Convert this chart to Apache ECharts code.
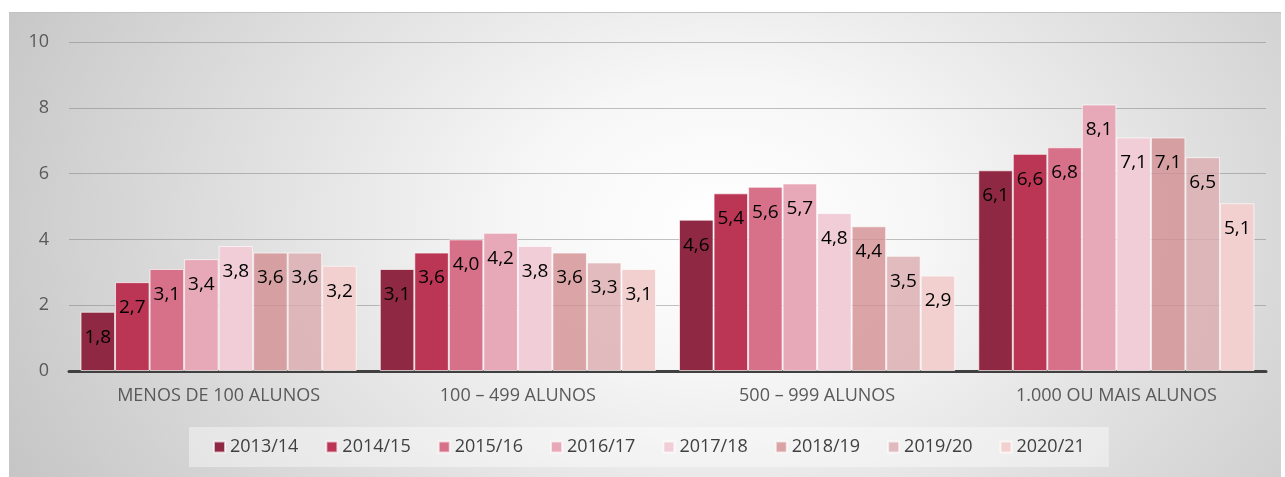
<!DOCTYPE html>
<html>
<head>
<meta charset="utf-8">
<script src="https://cdn.jsdelivr.net/npm/echarts@6/dist/echarts.min.js"></script>
<style>
  html, body { margin: 0; padding: 0; background: #fff; }
  #panel {
    position: absolute; left: 9px; top: 12px; width: 1272px; height: 465px;
    border-top: 1px solid #c2c2c2;
    background: radial-gradient(ellipse 62% 120% at 56% 45%, #ffffff 0%, #f7f7f7 25%, #c6c6c6 100%);
  }
  #chart { position: absolute; left: 0; top: 0; width: 1285px; height: 477px; }
</style>
</head>
<body>
<div id="panel"></div>
<div id="chart"></div>
<script>
  // dados
  var categorias = ['MENOS DE 100 ALUNOS', '100 – 499 ALUNOS', '500 – 999 ALUNOS', '1.000 OU MAIS ALUNOS'];
  var anos = ['2013/14', '2014/15', '2015/16', '2016/17', '2017/18', '2018/19', '2019/20', '2020/21'];
  var v2013 = [1.8, 3.1, 4.6, 6.1];
  var v2014 = [2.7, 3.6, 5.4, 6.6];
  var v2015 = [3.1, 4.0, 5.6, 6.8];
  var v2016 = [3.4, 4.2, 5.7, 8.1];
  var v2017 = [3.8, 3.8, 4.8, 7.1];
  var v2018 = [3.6, 3.6, 4.4, 7.1];
  var v2019 = [3.6, 3.3, 3.5, 6.5];
  var v2020 = [3.2, 3.1, 2.9, 5.1];
  var yTicks = [0, 2, 4, 6, 8, 10];

  var valores = [v2013, v2014, v2015, v2016, v2017, v2018, v2019, v2020];
  var cores = ['#8f2842', '#bb3554', '#d77089', '#e7a8b7', '#f1ced7',
               'rgba(211,144,146,0.8)', 'rgba(219,171,175,0.8)', '#f1d0cf'];

  var myChart = echarts.init(document.getElementById('chart'));

  var series = anos.map(function (nome, i) {
    return {
      name: nome,
      type: 'bar',
      data: valores[i],
      barGap: '0%',
      barCategoryGap: '7.7%',
      itemStyle: {
        color: cores[i],
        borderColor: 'rgba(255,255,255,0.65)',
        borderWidth: 1
      },
      label: {
        show: true,
        position: 'insideTop',
        distance: 16,
        fontSize: 19,
        color: '#000',
        fontFamily: 'Open Sans',
        formatter: function (p) { return p.value.toFixed(1).replace('.', ','); }
      }
    };
  });

  var option = {
    backgroundColor: 'transparent',
    animation: false,
    textStyle: { fontFamily: 'Open Sans' },
    grid: { left: 69, right: 19, top: 42, bottom: 106 },
    legend: {
      data: anos,
      left: 189,
      top: 427,
      padding: [11, 24, 11, 24],
      backgroundColor: 'rgba(255,255,255,0.4)',
      itemWidth: 11,
      itemHeight: 11,
      itemGap: 27,
      icon: 'rect',
      textStyle: { fontSize: 18, color: '#404040', fontFamily: 'Open Sans' }
    },
    xAxis: {
      type: 'category',
      data: categorias,
      axisLine: { lineStyle: { color: '#404040', width: 3 } },
      axisTick: { show: false },
      axisLabel: { fontSize: 18, color: '#595959', margin: 16, fontFamily: 'Open Sans' }
    },
    yAxis: {
      type: 'value',
      min: yTicks[0],
      max: yTicks[yTicks.length - 1],
      interval: 2,
      axisLine: { show: false },
      axisTick: { show: false },
      axisLabel: { fontSize: 18, color: '#595959', margin: 20, fontFamily: 'Open Sans' },
      splitLine: { lineStyle: { color: 'rgba(120,120,120,0.45)', width: 1 } }
    },
    series: series
  };

  myChart.setOption(option);
</script>
</body>
</html>
